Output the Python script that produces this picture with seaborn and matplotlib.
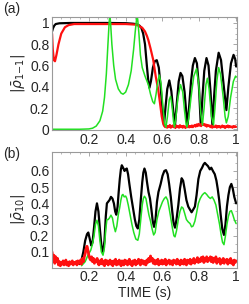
import numpy as np
import matplotlib
matplotlib.use('Agg')
import matplotlib.pyplot as plt
import seaborn as sns
from matplotlib.ticker import MultipleLocator, FuncFormatter

# panel (a): |rho_1-1|
a_black_t = [0, 0.005, 0.012, 0.02, 0.04, 0.1, 0.2, 0.3, 0.4, 0.44, 0.46, 0.475, 0.485, 0.495,
             0.505, 0.515, 0.522, 0.529, 0.537, 0.548, 0.558, 0.569, 0.58, 0.59, 0.6, 0.608,
             0.616, 0.626, 0.637, 0.648, 0.658, 0.668, 0.678, 0.688, 0.698, 0.708, 0.72, 0.728,
             0.736, 0.745, 0.755, 0.765, 0.776, 0.787, 0.798, 0.808, 0.817, 0.827, 0.839, 0.85,
             0.861, 0.871, 0.88, 0.89, 0.905, 0.918, 0.932, 0.947, 0.958, 0.972, 0.986, 0.995, 1.0]
a_black_v = [0.92, 0.95, 0.975, 0.99, 0.997, 1.0, 1.0, 1.0, 0.998, 0.993, 0.988, 0.975, 0.955, 0.9,
             0.8, 0.6, 0.47, 0.39, 0.45, 0.58, 0.64, 0.65, 0.58, 0.4, 0.18, 0.04,
             0.2, 0.38, 0.46, 0.36, 0.18, 0.04, 0.25, 0.45, 0.53, 0.5, 0.35, 0.18,
             0.03, 0.22, 0.45, 0.6, 0.67, 0.62, 0.4, 0.04, 0.3, 0.55, 0.67, 0.6,
             0.35, 0.04, 0.3, 0.55, 0.72, 0.65, 0.42, 0.18, 0.4, 0.62, 0.70, 0.66, 0.59]

a_green_t = [0, 0.15, 0.2, 0.22, 0.24, 0.26, 0.275, 0.285, 0.295, 0.303, 0.31, 0.314, 0.318, 0.325,
             0.335, 0.345, 0.36, 0.375, 0.386, 0.4, 0.415, 0.43, 0.443, 0.452, 0.46, 0.465, 0.472,
             0.48, 0.49, 0.505, 0.523, 0.535, 0.547, 0.556, 0.565, 0.575, 0.583, 0.592, 0.603,
             0.612, 0.619, 0.627, 0.637, 0.644, 0.652, 0.66, 0.665, 0.672, 0.684, 0.698, 0.71,
             0.72, 0.728, 0.733, 0.742, 0.755, 0.77, 0.785, 0.797, 0.808, 0.817, 0.826, 0.836,
             0.844, 0.853, 0.866, 0.877, 0.885, 0.895, 0.905, 0.915, 0.93, 0.94, 0.947, 0.957,
             0.97, 0.985, 0.997, 1.0]
a_green_v = [0.0, 0.0, 0.003, 0.01, 0.03, 0.08, 0.17, 0.3, 0.52, 0.78, 1.0, 1.08, 1.0, 0.8,
             0.6, 0.47, 0.38, 0.34, 0.33, 0.35, 0.42, 0.55, 0.75, 0.92, 1.05, 1.04, 0.9,
             0.7, 0.58, 0.5, 0.42, 0.33, 0.26, 0.24, 0.33, 0.45, 0.51, 0.43, 0.2,
             0.05, 0.02, 0.12, 0.28, 0.31, 0.22, 0.07, 0.02, 0.1, 0.3, 0.42, 0.35,
             0.17, 0.05, 0.02, 0.1, 0.3, 0.5, 0.57, 0.42, 0.15, 0.04, 0.2, 0.42,
             0.48, 0.38, 0.12, 0.04, 0.2, 0.45, 0.58, 0.52, 0.3, 0.12, 0.06, 0.12,
             0.3, 0.45, 0.5, 0.49]

a_red_t = [0, 0.004, 0.01, 0.016, 0.024, 0.035, 0.05, 0.07, 0.09, 0.12, 0.2, 0.3, 0.4, 0.45,
           0.47, 0.49, 0.505, 0.515, 0.523, 0.535, 0.55, 0.563, 0.577, 0.587, 0.596, 0.603, 0.608]
a_red_v = [0.9, 0.75, 0.65, 0.64, 0.7, 0.8, 0.9, 0.96, 0.98, 0.99, 0.99, 0.99, 0.99, 0.985,
           0.975, 0.955, 0.92, 0.88, 0.84, 0.76, 0.65, 0.5, 0.37, 0.24, 0.12, 0.06, 0.035]
a_red_noise = [0.03, 0.02, 0.035, 0.015, 0.03, 0.02, 0.04, 0.015, 0.025, 0.035,
               0.02, 0.03, 0.012, 0.035, 0.02, 0.028, 0.015, 0.038, 0.02, 0.03,
               0.015, 0.032, 0.022, 0.012, 0.03, 0.02, 0.035, 0.018, 0.028, 0.02,
               0.035, 0.02, 0.03, 0.04, 0.025, 0.045, 0.03, 0.05, 0.035, 0.045,
               0.03, 0.055, 0.04, 0.05, 0.035, 0.045, 0.025, 0.04, 0.03, 0.035,
               0.02, 0.035, 0.015, 0.03, 0.02, 0.025, 0.035, 0.015, 0.03, 0.02,
               0.03, 0.015, 0.025, 0.035, 0.02, 0.03, 0.012, 0.028, 0.02, 0.035,
               0.018, 0.03, 0.02, 0.025, 0.015, 0.03, 0.02, 0.028, 0.022]

# panel (b): |rho_10|
b_black_t = [0.15, 0.16, 0.17, 0.18, 0.19, 0.197, 0.205, 0.213, 0.22, 0.228, 0.236, 0.244, 0.252,
             0.26, 0.268, 0.277, 0.285, 0.292, 0.298, 0.305, 0.312, 0.32, 0.328, 0.336, 0.343,
             0.349, 0.356, 0.362, 0.368, 0.374, 0.379, 0.386, 0.394, 0.4, 0.406, 0.413, 0.42,
             0.43, 0.44, 0.45, 0.458, 0.466, 0.474, 0.482, 0.49, 0.496, 0.502, 0.509, 0.516,
             0.524, 0.532, 0.54, 0.547, 0.554, 0.562, 0.57, 0.578, 0.59, 0.6, 0.61, 0.619,
             0.628, 0.636, 0.645, 0.653, 0.66, 0.668, 0.676, 0.686, 0.695, 0.704, 0.712, 0.72,
             0.73, 0.74, 0.75, 0.758, 0.766, 0.776, 0.785, 0.795, 0.805, 0.815, 0.823, 0.83,
             0.838, 0.847, 0.857, 0.865, 0.874, 0.884, 0.893, 0.9, 0.908, 0.916, 0.925, 0.934,
             0.942, 0.95, 0.958, 0.966, 0.974, 0.982, 0.99, 1.0]
b_black_v = [0.025, 0.05, 0.1, 0.17, 0.21, 0.22, 0.18, 0.14, 0.16, 0.25, 0.35, 0.40, 0.35,
             0.24, 0.14, 0.10, 0.17, 0.32, 0.40, 0.41, 0.42, 0.44, 0.43, 0.40, 0.35,
             0.33, 0.38, 0.47, 0.55, 0.61, 0.635, 0.62, 0.60, 0.61, 0.615, 0.58, 0.52,
             0.44, 0.37, 0.3, 0.26, 0.245, 0.3, 0.42, 0.53, 0.59, 0.615, 0.59, 0.53,
             0.47, 0.43, 0.36, 0.29, 0.255, 0.3, 0.41, 0.47, 0.52, 0.57, 0.6, 0.605,
             0.58, 0.52, 0.44, 0.35, 0.28, 0.25, 0.3, 0.39, 0.49, 0.555, 0.54, 0.49,
             0.42, 0.38, 0.36, 0.345, 0.36, 0.38, 0.45, 0.55, 0.6, 0.62, 0.64, 0.65,
             0.64, 0.63, 0.61, 0.62, 0.6, 0.58, 0.54, 0.49, 0.42, 0.33, 0.24, 0.205,
             0.27, 0.38, 0.45, 0.5, 0.52, 0.49, 0.44, 0.40]

b_green_t = [0.16, 0.18, 0.195, 0.21, 0.22, 0.228, 0.236, 0.244, 0.252, 0.26, 0.268, 0.277, 0.285,
             0.292, 0.298, 0.305, 0.312, 0.32, 0.328, 0.336, 0.344, 0.352, 0.36, 0.367, 0.374,
             0.38, 0.385, 0.392, 0.4, 0.406, 0.414, 0.424, 0.434, 0.444, 0.455, 0.466, 0.474,
             0.482, 0.49, 0.496, 0.502, 0.51, 0.518, 0.526, 0.535, 0.544, 0.552, 0.56, 0.57,
             0.58, 0.59, 0.6, 0.61, 0.619, 0.628, 0.636, 0.645, 0.655, 0.662, 0.668, 0.676,
             0.686, 0.695, 0.704, 0.712, 0.72, 0.73, 0.74, 0.75, 0.758, 0.766, 0.776, 0.785,
             0.795, 0.805, 0.815, 0.823, 0.83, 0.84, 0.85, 0.86, 0.87, 0.88, 0.89, 0.9, 0.91,
             0.918, 0.926, 0.934, 0.942, 0.95, 0.958, 0.966, 0.974, 0.982, 0.99, 1.0]
b_green_v = [0.015, 0.04, 0.08, 0.11, 0.15, 0.2, 0.27, 0.296, 0.26, 0.17, 0.1, 0.08, 0.13,
             0.24, 0.3, 0.3, 0.31, 0.327, 0.31, 0.26, 0.225, 0.26, 0.33, 0.37, 0.42,
             0.45, 0.455, 0.44, 0.445, 0.43, 0.39, 0.33, 0.27, 0.22, 0.18, 0.172, 0.21,
             0.3, 0.39, 0.43, 0.444, 0.43, 0.38, 0.33, 0.29, 0.24, 0.205, 0.22, 0.3,
             0.35, 0.38, 0.41, 0.43, 0.44, 0.42, 0.37, 0.31, 0.24, 0.2, 0.193, 0.23,
             0.3, 0.35, 0.378, 0.37, 0.34, 0.3, 0.285, 0.275, 0.255, 0.26, 0.29, 0.34,
             0.4, 0.43, 0.45, 0.46, 0.466, 0.455, 0.44, 0.43, 0.44, 0.42, 0.39, 0.33, 0.27,
             0.21, 0.16, 0.145, 0.2, 0.27, 0.32, 0.35, 0.355, 0.33, 0.3, 0.275]

b_red_v = [0.10, 0.05, 0.08, 0.03, 0.07, 0.04, 0.06,
           0.02, 0.04, 0.015, 0.035, 0.025, 0.045, 0.02, 0.03, 0.05, 0.02, 0.035, 0.015,
           0.04, 0.025, 0.03, 0.045, 0.02, 0.035, 0.03, 0.04, 0.02, 0.045, 0.03,
           0.03, 0.05, 0.025, 0.06, 0.04, 0.07, 0.09, 0.12, 0.135, 0.11, 0.08, 0.06, 0.05,
           0.07, 0.04, 0.06, 0.03, 0.05, 0.04, 0.06, 0.03,
           0.02, 0.045, 0.03, 0.055, 0.025, 0.04, 0.015, 0.05, 0.03, 0.045,
           0.02, 0.035, 0.05, 0.025, 0.04, 0.015, 0.045, 0.03, 0.055, 0.02,
           0.04, 0.025, 0.05, 0.03, 0.015, 0.045, 0.035, 0.02, 0.05, 0.03,
           0.045, 0.02, 0.035, 0.055, 0.025, 0.04, 0.015, 0.045, 0.03, 0.05,
           0.02, 0.04, 0.03, 0.055, 0.035, 0.02, 0.05, 0.03, 0.045, 0.025,
           0.04, 0.02, 0.05, 0.035, 0.06, 0.04, 0.075, 0.045, 0.06, 0.03,
           0.05, 0.025, 0.045, 0.03, 0.055, 0.02, 0.04, 0.03, 0.05, 0.025,
           0.045, 0.03, 0.055, 0.02, 0.04, 0.035, 0.05, 0.025, 0.045, 0.03,
           0.02, 0.05, 0.035, 0.045, 0.025, 0.055, 0.03, 0.04, 0.02, 0.05,
           0.03, 0.045, 0.025, 0.055, 0.035, 0.02, 0.05, 0.04, 0.03, 0.055,
           0.025, 0.045, 0.035, 0.06, 0.03, 0.05, 0.04, 0.065, 0.035, 0.055,
           0.04, 0.065, 0.045, 0.07, 0.035, 0.06, 0.045, 0.07, 0.04, 0.06,
           0.05, 0.07, 0.04, 0.065, 0.035, 0.06, 0.045, 0.07, 0.03, 0.055,
           0.04, 0.06, 0.025, 0.05, 0.035, 0.06, 0.03, 0.05, 0.04, 0.055,
           0.025, 0.05, 0.035, 0.06, 0.03, 0.045, 0.02, 0.05, 0.035, 0.045]

a_red_noise_t = np.round(0.61 + 0.005 * np.arange(len(a_red_noise)), 4)
b_red_t = np.linspace(0, 1, len(b_red_v))

GREEN = '#22e022'
RED = '#ff1010'
FRAME = '#9a9a9a'

sns.set_style('white')
plt.rcParams['font.family'] = ['Liberation Sans', 'DejaVu Sans']
plt.rcParams['font.size'] = 10

fig = plt.figure(figsize=(2.49, 3.04), dpi=100)
ax1 = fig.add_axes([0.209, 0.572, 0.743, 0.372])
ax2 = fig.add_axes([0.209, 0.120, 0.743, 0.380])

sns.lineplot(x=a_black_t, y=a_black_v, ax=ax1, color='black', lw=1.6, sort=False, estimator=None)
sns.lineplot(x=list(a_red_t) + list(a_red_noise_t), y=a_red_v + a_red_noise, ax=ax1,
             color=RED, lw=1.6, sort=False, estimator=None)
sns.lineplot(x=a_green_t, y=a_green_v, ax=ax1, color=GREEN, lw=1.1, sort=False, estimator=None)

sns.lineplot(x=b_black_t, y=b_black_v, ax=ax2, color='black', lw=1.6, sort=False, estimator=None)
sns.lineplot(x=b_green_t, y=b_green_v, ax=ax2, color=GREEN, lw=1.1, sort=False, estimator=None)
sns.lineplot(x=b_red_t, y=b_red_v, ax=ax2, color=RED, lw=2.0, sort=False, estimator=None)

fmt = FuncFormatter(lambda v, p: '%g' % round(v, 2))
for ax in (ax1, ax2):
    ax.set_xlim(0, 1.005)
    ax.xaxis.set_major_locator(MultipleLocator(0.2))
    ax.xaxis.set_minor_locator(MultipleLocator(0.05))
    ax.xaxis.set_major_formatter(fmt)
    ax.yaxis.set_major_formatter(fmt)
    ax.tick_params(which='both', direction='in', top=True, right=True, color=FRAME,
                   labelsize=10, pad=2)
    ax.tick_params(which='major', length=3, width=0.6)
    ax.tick_params(which='minor', length=1.5, width=0.5)
    for s in ax.spines.values():
        s.set_color(FRAME)
        s.set_linewidth(0.8)
    ax.set_xlabel('')

ax1.set_ylim(-0.008, 1.056)
ax1.yaxis.set_major_locator(MultipleLocator(0.2))
ax1.yaxis.set_minor_locator(MultipleLocator(0.05))
ax1.set_xticks([0.2, 0.4, 0.6, 0.8, 1.0])
ax1.set_ylabel(r'$|\bar{\rho}_{1\mathrm{-}1}|$', labelpad=2)

ax2.set_ylim(0.004, 0.717)
ax2.yaxis.set_major_locator(MultipleLocator(0.1))
ax2.yaxis.set_minor_locator(MultipleLocator(0.05))
ax2.set_yticks([0.1, 0.2, 0.3, 0.4, 0.5, 0.6])
ax2.set_xticks([0.2, 0.4, 0.6, 0.8, 1.0])
ax2.set_ylabel(r'$|\bar{\rho}_{10}|$', labelpad=2)
ax2.set_xlabel('TIME (s)', labelpad=1)

fig.text(0.012, 0.972, '(a)', fontsize=10, va='center', ha='left')
fig.text(0.012, 0.493, '(b)', fontsize=10, va='center', ha='left')

fig.savefig('out.png', dpi=100)
